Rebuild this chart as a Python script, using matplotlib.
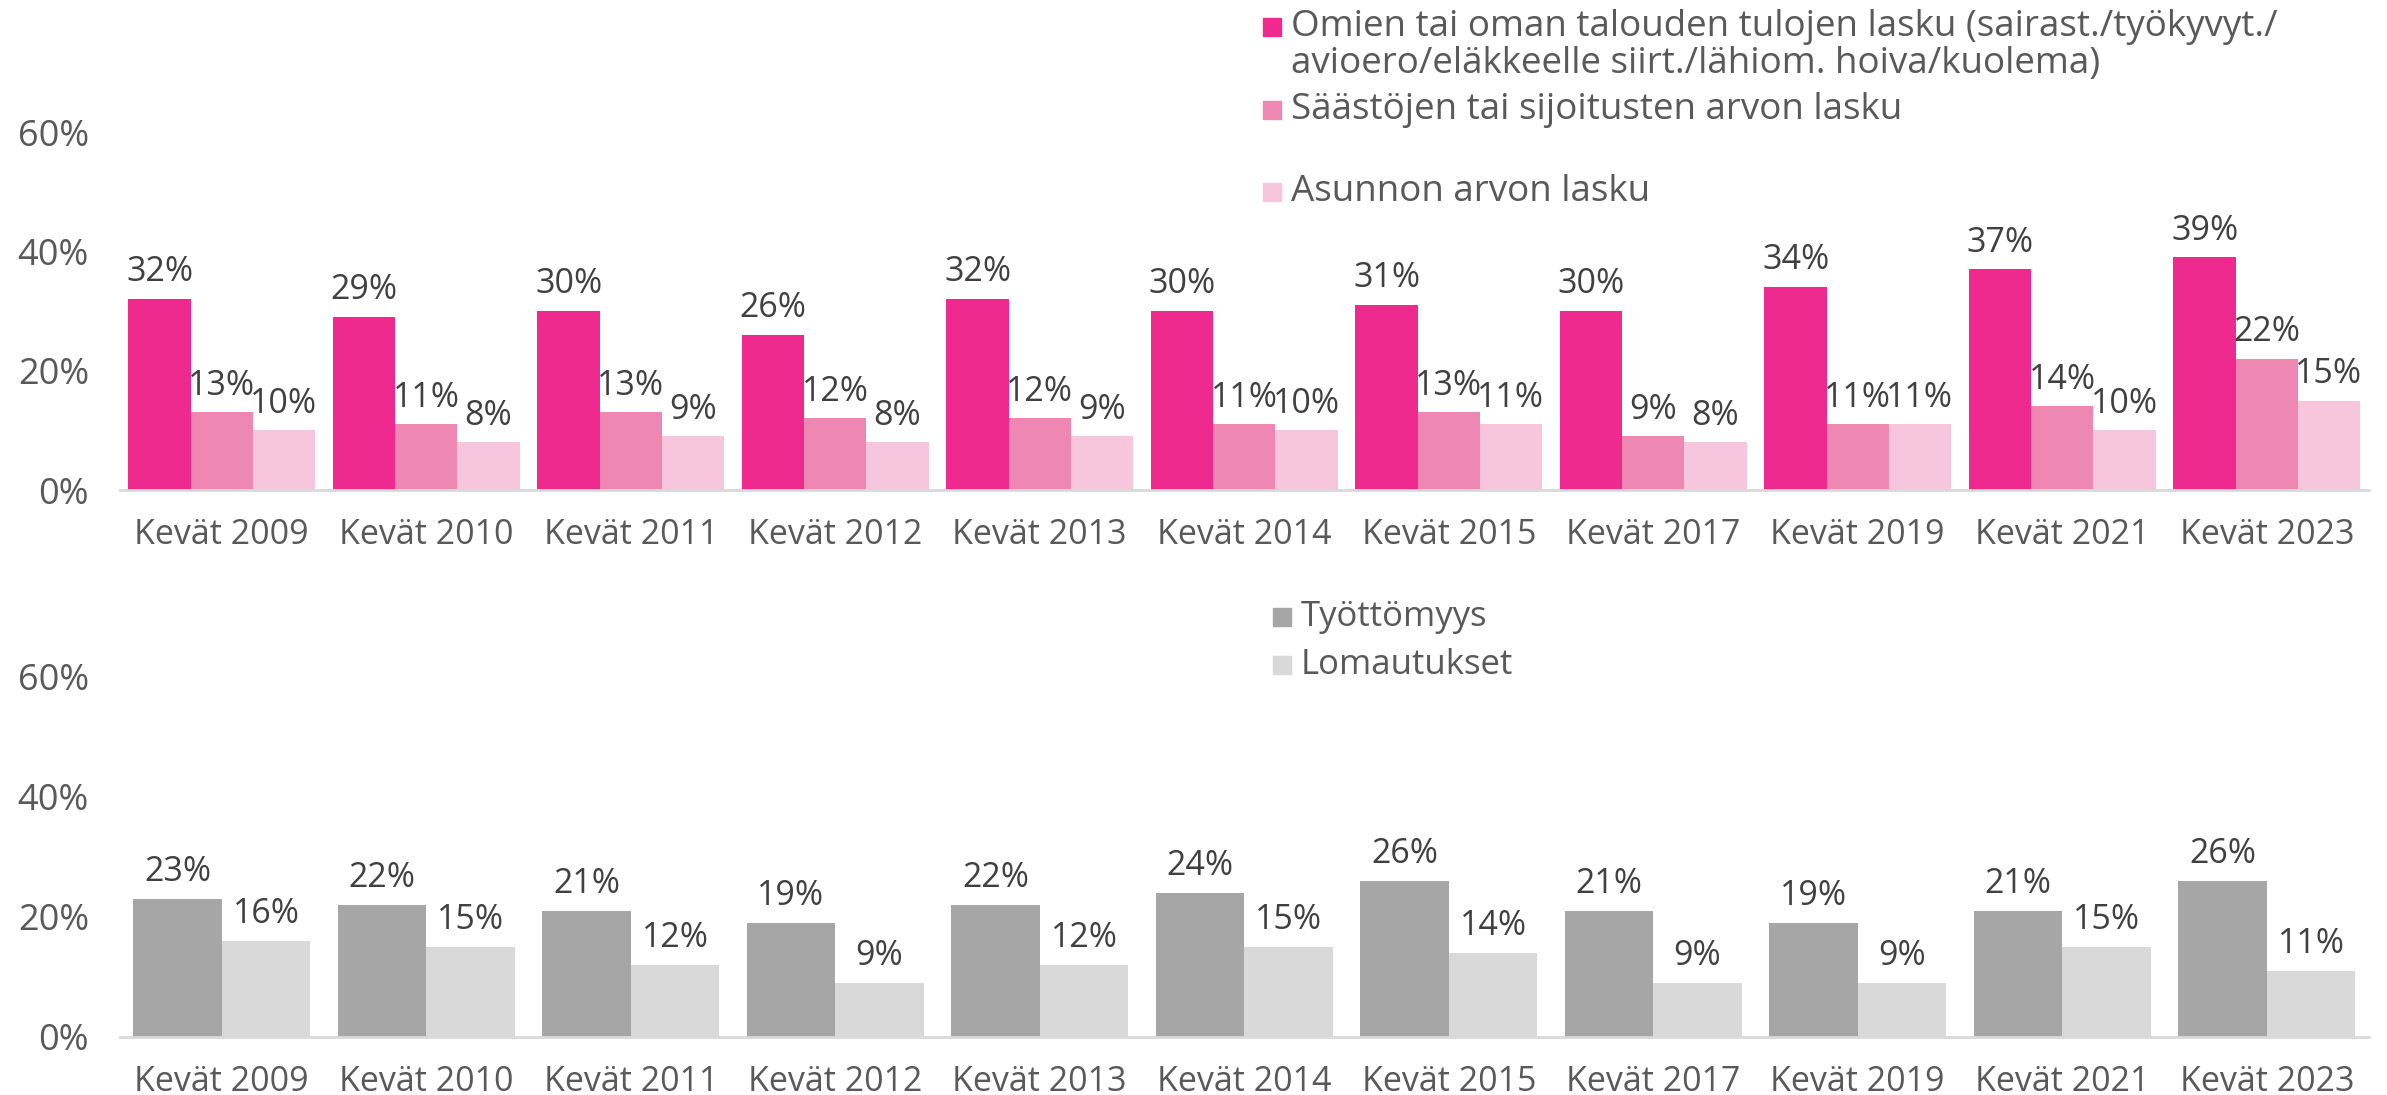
import matplotlib
matplotlib.use("Agg")
import matplotlib.pyplot as plt
from matplotlib.patches import Rectangle
import numpy as np

plt.rcParams['font.family'] = ['Open Sans', 'DejaVu Sans']

categories = ["Kevät 2009", "Kevät 2010", "Kevät 2011", "Kevät 2012", "Kevät 2013",
              "Kevät 2014", "Kevät 2015", "Kevät 2017", "Kevät 2019", "Kevät 2021",
              "Kevät 2023"]

# Upper panel: income / savings / housing value declines (%)
tulojen_lasku = [32, 29, 30, 26, 32, 30, 31, 30, 34, 37, 39]
saastojen_lasku = [13, 11, 13, 12, 12, 11, 13, 9, 11, 14, 22]
asunnon_lasku = [10, 8, 9, 8, 9, 10, 11, 8, 11, 10, 15]

# Lower panel: unemployment / layoffs (%)
tyottomyys = [23, 22, 21, 19, 22, 24, 26, 21, 19, 21, 26]
lomautukset = [16, 15, 12, 9, 12, 15, 14, 9, 9, 15, 11]

top_labels = ["Omien tai oman talouden tulojen lasku (sairast./työkyvyt./\navioero/eläkkeelle siirt./lähiom. hoiva/kuolema)",
              "Säästöjen tai sijoitusten arvon lasku",
              "Asunnon arvon lasku"]
bottom_labels = ["Työttömyys", "Lomautukset"]

yticks = [0, 20, 40, 60]

PINK = ["#EE2A8E", "#EE88B3", "#F8C6DC"]
GREY = ["#A6A6A6", "#D9D9D9"]
TEXT = "#595959"
LABEL = "#404040"

W, H = 2387, 1095
fig = plt.figure(figsize=(W / 100, H / 100), dpi=100)

ax_top = fig.add_axes([119.5 / W, 1 - 490 / H, (2369 - 119.5) / W, (490 - 132) / H])
ax_bot = fig.add_axes([119.5 / W, 1 - 1037 / H, (2369 - 119.5) / W, (1037 - 677) / H])

x = np.arange(len(categories))


def style(ax):
    ax.set_xlim(-0.5, len(categories) - 0.5)
    ax.set_ylim(0, 60)
    ax.set_yticks(yticks)
    ax.set_yticklabels([f"{v}%" for v in yticks], fontsize=26)
    ax.set_xticks(x)
    ax.set_xticklabels(categories, fontsize=24.5)
    for s in ["top", "right", "left"]:
        ax.spines[s].set_visible(False)
    ax.spines["bottom"].set_color("#D9D9D9")
    ax.spines["bottom"].set_linewidth(2)
    ax.tick_params(axis="both", length=0, colors=TEXT)
    ax.tick_params(axis="y", pad=22)
    ax.tick_params(axis="x", pad=20)
    ax.set_facecolor("none")


def label_bars(ax, bars, values):
    for b, v in zip(bars, values):
        ax.annotate(f"{v}%", (b.get_x() + b.get_width() / 2, b.get_height()),
                    xytext=(0, 7), textcoords="offset points",
                    ha="center", va="bottom", fontsize=24.5, color=LABEL)


# upper panel
w3 = 0.304
for i, (vals, col) in enumerate(zip([tulojen_lasku, saastojen_lasku, asunnon_lasku], PINK)):
    bars = ax_top.bar(x + (i - 1) * w3, vals, width=w3, color=col, zorder=2)
    label_bars(ax_top, bars, vals)
style(ax_top)

# lower panel
w2 = 0.433
for i, (vals, col) in enumerate(zip([tyottomyys, lomautukset], GREY)):
    bars = ax_bot.bar(x + (i - 0.5) * w2, vals, width=w2, color=col, zorder=2)
    label_bars(ax_bot, bars, vals)
style(ax_bot)


# legends drawn as swatches with text
def legend_entry(px, py, color, text, size=26.5, gap=10):
    sq = 18
    fig.patches.append(Rectangle((px / W, 1 - (py + sq / 2) / H), sq / W, sq / H,
                                 transform=fig.transFigure, color=color))
    fig.text((px + sq + gap) / W, 1 - py / H, text, ha="left", va="center",
             fontsize=size, color=TEXT)


legend_entry(1263, 27, PINK[0], top_labels[0].split("\n")[0])
fig.text(1291 / W, 1 - 64 / H, top_labels[0].split("\n")[1], ha="left", va="center",
         fontsize=26.5, color=TEXT)
legend_entry(1263, 110, PINK[1], top_labels[1])
legend_entry(1263, 192, PINK[2], top_labels[2])

legend_entry(1273, 617, GREY[0], bottom_labels[0], size=25)
legend_entry(1273, 665, GREY[1], bottom_labels[1], size=25)

fig.savefig("out.png", dpi=100, facecolor="white")
